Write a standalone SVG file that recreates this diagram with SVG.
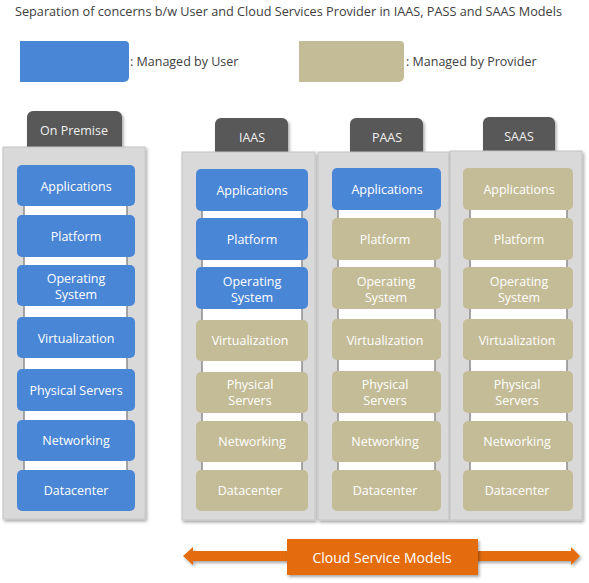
<svg xmlns="http://www.w3.org/2000/svg" width="589" height="583" viewBox="0 0 589 583">
<defs>
<filter id="sh" x="-10%" y="-10%" width="130%" height="130%">
<feDropShadow dx="1.5" dy="2" stdDeviation="1.5" flood-color="#000" flood-opacity="0.35"/>
</filter>
<style>
text{font-family:"Open Sans","Noto Sans","Liberation Sans",sans-serif}
.title{font-size:12.5px;fill:#404040}
.leg{font-size:12.5px;fill:#404040}
.cont{fill:#d9d9d9;stroke:#c4c4c4;stroke-width:1}
.tab{fill:#595959}
.tabt{font-size:12.5px;fill:#f0f0f0;text-anchor:middle}
.u{fill:#4a86d6}
.p{fill:#c4bc96}
.bt{font-size:12.5px;fill:#ffffff;text-anchor:middle}
.shelf{fill:#ffffff;stroke:#8c8c8c;stroke-width:1.5}
.or{fill:#e46c0a}
</style>
</defs>
<rect width="589" height="583" fill="#ffffff"/>
<text class="title" x="15" y="16" textLength="547" lengthAdjust="spacingAndGlyphs">Separation of concerns b/w User and Cloud Services Provider in IAAS, PASS and SAAS Models</text>
<g id="legend">
<path class="u" d="M20 41H125a4 4 0 0 1 4 4V77a5 5 0 0 1-5 5H20Z"/>
<text class="leg" x="130" y="66">: Managed by User</text>
<path class="p" d="M299 41H400a4 4 0 0 1 4 4V77a5 5 0 0 1-5 5H299Z"/>
<text class="leg" x="406" y="66">: Managed by Provider</text>
</g>

<g id="onpremise">
<path class="tab" filter="url(#sh)" d="M27 147V117a6 6 0 0 1 6-6H116a6 6 0 0 1 6 6V147Z"/>
<text class="tabt" x="74" y="135">On Premise</text>
<rect class="cont" filter="url(#sh)" x="3" y="147" width="142" height="372"/>
<rect class="shelf" x="24" y="175" width="103" height="326"/>
<rect class="u" x="17" y="165" width="118" height="41" rx="5"/><text class="bt" x="76" y="191">Applications</text>
<rect class="u" x="17" y="215" width="118" height="42" rx="5"/><text class="bt" x="76" y="241">Platform</text>
<rect class="u" x="17" y="265" width="118" height="41" rx="5"/><text class="bt" x="76" y="283">Operating</text><text class="bt" x="76" y="299">System</text>
<rect class="u" x="17" y="317" width="118" height="41" rx="5"/><text class="bt" x="76" y="343">Virtualization</text>
<rect class="u" x="17" y="369" width="118" height="42" rx="5"/><text class="bt" x="76" y="395">Physical Servers</text>
<rect class="u" x="17" y="420" width="118" height="41" rx="5"/><text class="bt" x="76" y="445">Networking</text>
<rect class="u" x="17" y="470" width="118" height="41" rx="5"/><text class="bt" x="76" y="495">Datacenter</text>
</g>

<g id="iaas">
<path class="tab" filter="url(#sh)" d="M215 152V124a6 6 0 0 1 6-6H282a6 6 0 0 1 6 6V152Z"/>
<text class="tabt" x="252" y="142">IAAS</text>
<rect class="cont" filter="url(#sh)" x="182" y="152" width="133" height="368"/>
<rect class="shelf" x="202" y="180" width="100" height="320"/>
<rect class="u" x="196" y="169" width="112" height="42" rx="5"/><text class="bt" x="252" y="195">Applications</text>
<rect class="u" x="196" y="218" width="112" height="42" rx="5"/><text class="bt" x="252" y="244">Platform</text>
<rect class="u" x="196" y="267" width="112" height="42" rx="5"/><text class="bt" x="252" y="286">Operating</text><text class="bt" x="252" y="302">System</text>
<rect class="p" x="196" y="320" width="112" height="41" rx="5"/><text class="bt" x="250" y="345">Virtualization</text>
<rect class="p" x="196" y="372" width="112" height="41" rx="5"/><text class="bt" x="250" y="389">Physical</text><text class="bt" x="250" y="405">Servers</text>
<rect class="p" x="196" y="421" width="112" height="41" rx="5"/><text class="bt" x="252" y="446">Networking</text>
<rect class="p" x="196" y="470" width="112" height="41" rx="5"/><text class="bt" x="250" y="495">Datacenter</text>
</g>

<g id="paas">
<path class="tab" filter="url(#sh)" d="M350 152V124a6 6 0 0 1 6-6H417a6 6 0 0 1 6 6V152Z"/>
<text class="tabt" x="387" y="142">PAAS</text>
<rect class="cont" filter="url(#sh)" x="318" y="152" width="131" height="368"/>
<rect class="shelf" x="338" y="180" width="97" height="320"/>
<rect class="u" x="332" y="168" width="109" height="42" rx="5"/><text class="bt" x="387" y="194">Applications</text>
<rect class="p" x="332" y="218" width="109" height="42" rx="5"/><text class="bt" x="385" y="244">Platform</text>
<rect class="p" x="332" y="267" width="109" height="42" rx="5"/><text class="bt" x="386" y="286">Operating</text><text class="bt" x="386" y="302">System</text>
<rect class="p" x="332" y="319" width="109" height="41" rx="5"/><text class="bt" x="385" y="345">Virtualization</text>
<rect class="p" x="332" y="371" width="109" height="42" rx="5"/><text class="bt" x="385" y="389">Physical</text><text class="bt" x="385" y="405">Servers</text>
<rect class="p" x="332" y="421" width="109" height="41" rx="5"/><text class="bt" x="385" y="446">Networking</text>
<rect class="p" x="332" y="470" width="109" height="41" rx="5"/><text class="bt" x="385" y="495">Datacenter</text>
</g>

<g id="saas">
<path class="tab" filter="url(#sh)" d="M483 151V123a6 6 0 0 1 6-6H549a6 6 0 0 1 6 6V151Z"/>
<text class="tabt" x="519" y="141">SAAS</text>
<rect class="cont" filter="url(#sh)" x="450" y="151" width="132" height="369"/>
<rect class="shelf" x="470" y="180" width="97" height="320"/>
<rect class="p" x="463" y="168" width="110" height="42" rx="5"/><text class="bt" x="519" y="194">Applications</text>
<rect class="p" x="463" y="218" width="110" height="42" rx="5"/><text class="bt" x="519" y="244">Platform</text>
<rect class="p" x="463" y="267" width="110" height="42" rx="5"/><text class="bt" x="519" y="286">Operating</text><text class="bt" x="519" y="302">System</text>
<rect class="p" x="463" y="319" width="110" height="41" rx="5"/><text class="bt" x="517" y="345">Virtualization</text>
<rect class="p" x="463" y="371" width="110" height="42" rx="5"/><text class="bt" x="517" y="389">Physical</text><text class="bt" x="517" y="405">Servers</text>
<rect class="p" x="463" y="421" width="110" height="41" rx="5"/><text class="bt" x="517" y="446">Networking</text>
<rect class="p" x="463" y="470" width="110" height="41" rx="5"/><text class="bt" x="517" y="495">Datacenter</text>
</g>

<g id="connectors">
<path class="or" filter="url(#sh)" d="M183 556L193 547V551H571V547L580 556L571 565V561H193V565Z"/>
</g>
<g id="cloudmodels">
<rect class="or" filter="url(#sh)" x="287" y="539" width="191" height="36"/>
<text x="382" y="563" text-anchor="middle" font-size="14" fill="#ffffff">Cloud Service Models</text>
</g>
</svg>
